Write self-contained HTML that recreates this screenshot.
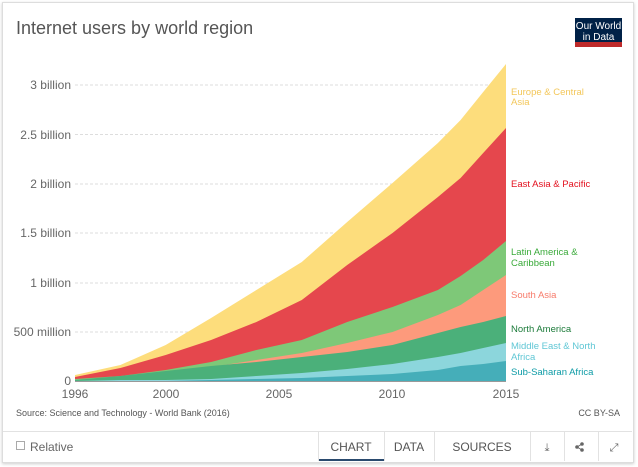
<!DOCTYPE html>
<html><head><meta charset="utf-8"><style>
body{margin:0;background:#fff;font-family:"Liberation Sans",sans-serif;}
.card{position:absolute;left:2px;top:2px;width:630px;height:459px;border:1px solid #ddd;box-shadow:0 1px 3px rgba(0,0,0,.2);background:#fff;}
</style></head><body>
<div class="card"></div>
<svg width="638" height="467" style="position:absolute;left:0;top:0" font-family="Liberation Sans, sans-serif">
<text x="16" y="34" font-size="18" fill="#555">Internet users by world region</text>
<rect x="575" y="18" width="47" height="29" fill="#002147"/>
<rect x="575" y="42" width="47" height="5" fill="#be2a2a"/>
<text x="598.5" y="29" font-size="10" fill="#fff" text-anchor="middle">Our World</text>
<text x="598.5" y="40" font-size="10" fill="#fff" text-anchor="middle">in Data</text>
<g stroke="#ddd" stroke-dasharray="3,2">
<line x1="75" x2="506" y1="85" y2="85"/><line x1="75" x2="506" y1="134.5" y2="134.5"/>
<line x1="75" x2="506" y1="184" y2="184"/><line x1="75" x2="506" y1="233" y2="233"/>
<line x1="75" x2="506" y1="283" y2="283"/><line x1="75" x2="506" y1="332" y2="332"/>
</g>
<g font-size="12" fill="#666" text-anchor="end">
<text x="71" y="89">3 billion</text><text x="71" y="139">2.5 billion</text>
<text x="71" y="188">2 billion</text><text x="71" y="237">1.5 billion</text>
<text x="71" y="287">1 billion</text><text x="71" y="336">500 million</text>
<text x="71" y="385">0</text>
</g>
<polygon fill="#fddd7c" points="75,375 120.4,365 165.7,345 211.1,318 256.4,290 301.8,262 347.2,222 392.5,183 437.9,143 460.6,120 483.2,92 506,64 506,381 75,381"/>
<polygon fill="#e5474d" points="75,377 120.4,368 165.7,355 211.1,340 256.4,322 301.8,300 347.2,265 392.5,233 437.9,197 460.6,178 483.2,153 506,128 506,381 75,381"/>
<polygon fill="#7ec878" points="75,379 120.4,376 165.7,370 211.1,362 256.4,350 301.8,340 347.2,322 392.5,307 437.9,290 460.6,276 483.2,260 506,241 506,381 75,381"/>
<polygon fill="#fd9a7c" points="75,380 120.4,377 165.7,373 211.1,367 256.4,360 301.8,353 347.2,343 392.5,332 437.9,315 460.6,305 483.2,290 506,275 506,381 75,381"/>
<polygon fill="#4bb07a" points="75,380 120.4,376 165.7,371 211.1,366 256.4,362 301.8,357 347.2,352 392.5,345 437.9,333 460.6,327 483.2,322 506,316 506,381 75,381"/>
<polygon fill="#8cd6dc" points="75,381 120.4,380 165.7,380 211.1,379 256.4,376 301.8,373 347.2,369 392.5,364 437.9,357 460.6,353 483.2,348 506,343 506,381 75,381"/>
<polygon fill="#45aeb9" points="75,381 120.4,381 165.7,381 211.1,380 256.4,379 301.8,378 347.2,376 392.5,374 437.9,370 460.6,366 483.2,364 506,361 506,381 75,381"/>
<line x1="75" x2="506" y1="381.5" y2="381.5" stroke="#999"/>
<g font-size="12" fill="#666" text-anchor="middle">
<text x="75" y="398">1996</text><text x="166" y="398">2000</text><text x="279" y="398">2005</text>
<text x="392" y="398">2010</text><text x="506" y="398">2015</text>
</g>
<g font-size="9.5">
<text x="511" y="95" fill="#f3c75a">Europe &amp; Central</text><text x="511" y="105" fill="#f3c75a">Asia</text>
<text x="511" y="187" fill="#e3101e">East Asia &amp; Pacific</text>
<text x="511" y="255" fill="#3aaa3a">Latin America &amp;</text><text x="511" y="266" fill="#3aaa3a">Caribbean</text>
<text x="511" y="298" fill="#f77b6b">South Asia</text>
<text x="511" y="332" fill="#1c7b3a">North America</text>
<text x="511" y="349" fill="#60c7d5">Middle East &amp; North</text><text x="511" y="360" fill="#60c7d5">Africa</text>
<text x="511" y="375" fill="#0d9ba6">Sub-Saharan Africa</text>
</g>
<text x="16" y="416" font-size="9" fill="#555">Source: Science and Technology - World Bank (2016)</text>
<text x="620" y="416" font-size="9" fill="#555" text-anchor="end">CC BY-SA</text>
<line x1="3" x2="632" y1="431.5" y2="431.5" stroke="#e2e2e2"/>
<rect x="16.5" y="441.5" width="8" height="8" fill="#fff" stroke="#aaa"/>
<text x="30" y="451" font-size="12" fill="#666">Relative</text>
<g stroke="#e2e2e2"><line x1="318.5" x2="318.5" y1="432" y2="461"/><line x1="384.5" x2="384.5" y1="432" y2="461"/><line x1="434.5" x2="434.5" y1="432" y2="461"/><line x1="530.5" x2="530.5" y1="432" y2="461"/><line x1="564.5" x2="564.5" y1="432" y2="461"/><line x1="598.5" x2="598.5" y1="432" y2="461"/></g>
<g font-size="12" fill="#555" text-anchor="middle"><text x="351" y="451">CHART</text><text x="409" y="451">DATA</text><text x="482" y="451">SOURCES</text></g>
<rect x="319" y="459" width="65" height="2" fill="#2a4a6e"/>
<text x="547" y="451" font-size="11" fill="#666" text-anchor="middle">⤓</text>
<g fill="#666"><circle cx="577" cy="447" r="1.8"/><circle cx="582" cy="444" r="1.8"/><circle cx="582" cy="450" r="1.8"/></g>
<line x1="577" x2="582" y1="447" y2="444" stroke="#666"/><line x1="577" x2="582" y1="447" y2="450" stroke="#666"/>
<text x="614" y="451" font-size="11" fill="#666" text-anchor="middle">⤢</text>
</svg>
</body></html>
